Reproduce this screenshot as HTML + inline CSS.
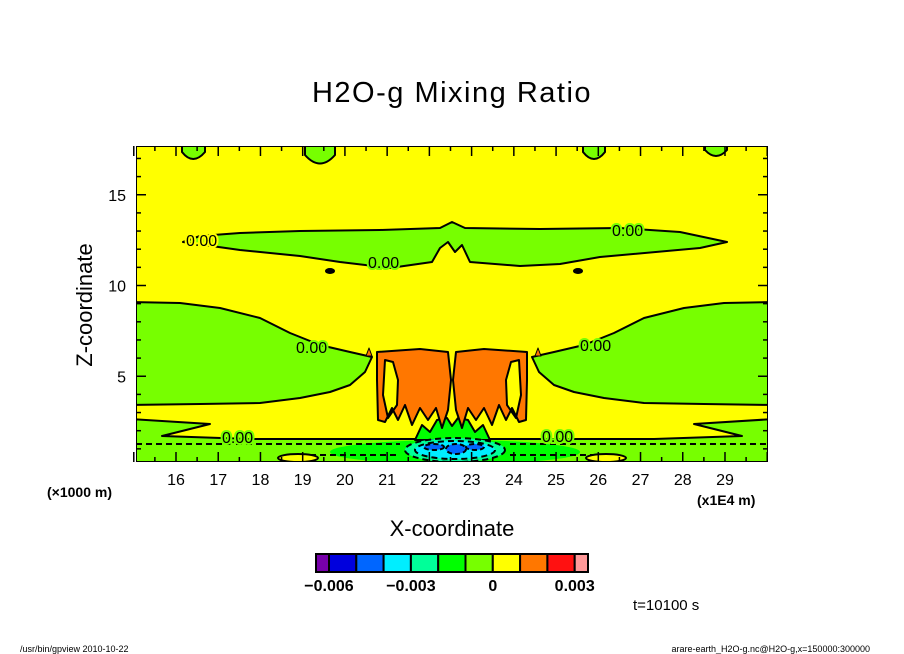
<!DOCTYPE html>
<html><head><meta charset="utf-8"><style>
html,body{margin:0;padding:0;background:#fff;}
svg{display:block;font-family:"Liberation Sans",sans-serif;}
</style></head><body>
<svg id="chart" width="904" height="654" viewBox="0 0 904 654" xmlns="http://www.w3.org/2000/svg">
<text x="452" y="102" font-size="29" text-anchor="middle" letter-spacing="1.5">H2O-g Mixing Ratio</text>
<defs><clipPath id="pc"><rect x="136" y="146" width="632" height="316"/></clipPath></defs>
<g id="plot" clip-path="url(#pc)" stroke="#000" stroke-width="2" stroke-linejoin="round">
<rect x="136" y="146" width="632" height="316" fill="#ffff00" stroke="none"/>
<path d="M182,140 L182,152 Q193,166 205,152 L205,140Z" fill="#77ff00"/>
<path d="M305,140 L305,155 Q320,172 335,155 L335,140Z" fill="#77ff00"/>
<path d="M583,140 L583,152 Q594,166 605,152 L605,140Z" fill="#77ff00"/>
<path d="M705,140 L705,150 Q716,162 727,150 L727,140Z" fill="#77ff00"/>
<path d="M183,242 L200,236 L240,233 L300,231 L380,230 L440,228 L452,222 L465,228 L540,229 L620,228 L680,232 L727,242 L700,248 L600,257 L560,264 L520,266 L470,262 L462,245 L455,252 L448,242 L440,248 L432,262 L390,268 L340,262 L300,256 L240,250 Z" fill="#77ff00"/>
<path d="M130,302 L180,303 L220,308 L260,318 L290,333 L320,345 L350,352 L372,357 L365,372 L350,385 L330,392 L300,398 L260,403 L200,404 L130,405 Z" fill="#77ff00"/>
<path d="M774,302 L724,303 L684,308 L644,318 L614,333 L584,345 L554,352 L532,357 L539,372 L554,385 L574,392 L604,398 L644,403 L704,404 L774,405 Z" fill="#77ff00"/>
<path d="M130,419 L210,424 L162,436 L250,439 L654,439 L742,436 L694,424 L774,419 L774,470 L130,470 Z" fill="#77ff00"/>
<ellipse cx="455" cy="452" rx="125" ry="12" fill="#00ff00" stroke="none"/>
<path d="M415,440 L422,425 L430,432 L437,420 L447,418 L452,426 L458,418 L468,420 L475,432 L483,425 L490,440 Z" fill="#00ff00"/>
<ellipse cx="455" cy="450" rx="50" ry="12" fill="#00ff99" stroke-dasharray="6 4"/>
<ellipse cx="455" cy="450" rx="40" ry="9" fill="#00eeff" stroke-dasharray="6 4"/>
<ellipse cx="434" cy="447" rx="10" ry="3" fill="#0066ff" stroke-dasharray="5 3"/>
<ellipse cx="456" cy="449" rx="10" ry="5" fill="#0066ff" stroke-dasharray="5 3"/>
<ellipse cx="475" cy="447" rx="9" ry="3" fill="#0066ff" stroke-dasharray="5 3"/>
<path d="M136,444 L400,444 M510,444 L768,444 M300,455 L400,455 M510,455 L620,455" fill="none" stroke-dasharray="6 4"/>
<ellipse cx="298" cy="458" rx="20" ry="4" fill="#ffff00"/>
<ellipse cx="606" cy="458" rx="20" ry="4" fill="#ffff00"/>
<path d="M377,352 L420,349 L448,352 L451,380 L448,410 L442,428 L436,408 L428,420 L420,408 L412,425 L405,405 L398,420 L392,408 L385,422 L378,420 L377,380 Z M385,360 L383,395 L388,418 L397,405 L398,380 L393,362 Z" fill="#ff7700" fill-rule="evenodd"/>
<path d="M527,352 L484,349 L456,352 L453,380 L456,410 L462,428 L468,408 L476,420 L484,408 L492,425 L499,405 L506,420 L512,408 L519,422 L526,420 L527,380 Z M519,360 L521,395 L516,418 L507,405 L506,380 L511,362 Z" fill="#ff7700" fill-rule="evenodd"/>
<path d="M369,348 L372,356 L366,356Z" fill="#ff7700" stroke-width="1"/>
<path d="M538,348 L541,356 L535,356Z" fill="#ff7700" stroke-width="1"/>
<ellipse cx="330" cy="271" rx="4" ry="2" fill="#000"/>
<ellipse cx="578" cy="271" rx="4" ry="2" fill="#000"/>
<rect x="136" y="146" width="632" height="316" fill="none" stroke="#000" stroke-width="2"/>
</g>
<g font-size="16">
<text x="186" y="246" fill="#000" stroke="#ffff00" stroke-width="4" paint-order="stroke">0.00</text>
<text x="612" y="236" fill="#000" stroke="#77ff00" stroke-width="4" paint-order="stroke">0.00</text>
<text x="368" y="268" fill="#000" stroke="#77ff00" stroke-width="4" paint-order="stroke">0.00</text>
<text x="296" y="353" fill="#000" stroke="#77ff00" stroke-width="4" paint-order="stroke">0.00</text>
<text x="580" y="351" fill="#000" stroke="#77ff00" stroke-width="4" paint-order="stroke">0.00</text>
<text x="222" y="443" fill="#000" stroke="#77ff00" stroke-width="4" paint-order="stroke">0.00</text>
<text x="542" y="442" fill="#000" stroke="#77ff00" stroke-width="4" paint-order="stroke">0.00</text>
</g>
<g id="axes"></g>
<text x="47" y="497" font-size="14" font-weight="bold">(×1000 m)</text>
<text x="697" y="505" font-size="14" font-weight="bold">(x1E4 m)</text>
<text x="452" y="536" font-size="22" text-anchor="middle">X-coordinate</text>
<text transform="translate(92,305) rotate(-90)" font-size="22" text-anchor="middle">Z-coordinate</text>
<g id="cbar"></g>
<text x="633" y="610" font-size="15">t=10100 s</text>
<text x="20" y="652" font-size="9">/usr/bin/gpview   2010-10-22</text>
<text x="870" y="652" font-size="9" text-anchor="end">arare-earth_H2O-g.nc@H2O-g,x=150000:300000</text>
<script>
const xTicks=[16,17,18,19,20,21,22,23,24,25,26,27,28,29];
const yTicks=[5,10,15];
const cbarColors=["#7700aa","#0000dd","#0066ff","#00eeff","#00ff99","#00ff00","#77ff00","#ffff00","#ff7700","#ff1111","#ff9999"];
const cbarLevels=[-0.006,-0.005,-0.004,-0.003,-0.002,-0.001,0,0.001,0.002,0.003];
const cbarLabels=["-0.006","-0.003","0","0.003"];
const cbarLabelVals=[-0.006,-0.003,0,0.003];
const NS="http://www.w3.org/2000/svg";
const X=v=>176+(v-16)*42.23;
const Y=v=>467-v*18.15;
const ax=document.getElementById('axes');
function mk(t,a,p){const e=document.createElementNS(NS,t);for(const k in a)e.setAttribute(k,a[k]);p.appendChild(e);return e;}
for(let v=15;v<=30;v+=0.5){const x=X(v);const maj=Number.isInteger(v);
 const l=mk('line',{x1:x,x2:x,y1:462,y2:462-(maj?10:5),stroke:'#000','stroke-width':1.5},ax);
 
 
 const l2=mk('line',{x1:x,x2:x,y1:146,y2:146+(maj?10:5),stroke:'#000','stroke-width':1.5},ax);
 
 }
for(let v=1;v<=17;v++){const y=Y(v);const maj=v%5===0;
 const l=mk('line',{x1:136,x2:136+(maj?10:5),y1:y,y2:y,stroke:'#000','stroke-width':1.5},ax);
 
 
 const l2=mk('line',{x1:768,x2:768-(maj?10:5),y1:y,y2:y,stroke:'#000','stroke-width':1.5},ax);
 
 }
xTicks.forEach(v=>{const t=mk('text',{x:X(v),y:485,'font-size':16,'text-anchor':'middle'},ax);t.textContent=v;
 
 });
yTicks.forEach(v=>{const t=mk('text',{x:126,y:Y(v)+6,'font-size':16,'text-anchor':'end'},ax);t.textContent=v;
 
 });
const cb=document.getElementById('cbar');
const C=v=>329+(v+0.006)*(27.3/0.001);
const edges=[316].concat(cbarLevels.map(C)).concat([588]);
cbarColors.forEach((c,i)=>{const r=mk('rect',{x:edges[i],y:554,width:edges[i+1]-edges[i],height:18,fill:c,stroke:'#000','stroke-width':2},cb);
 
 });
cbarLabels.forEach((s,i)=>{const t=mk('text',{x:C(cbarLabelVals[i]),y:591,'font-size':16,'font-weight':'bold','text-anchor':'middle'},cb);t.textContent=s.replace('-','−');
 
 });
</script>
</svg>
</body></html>
